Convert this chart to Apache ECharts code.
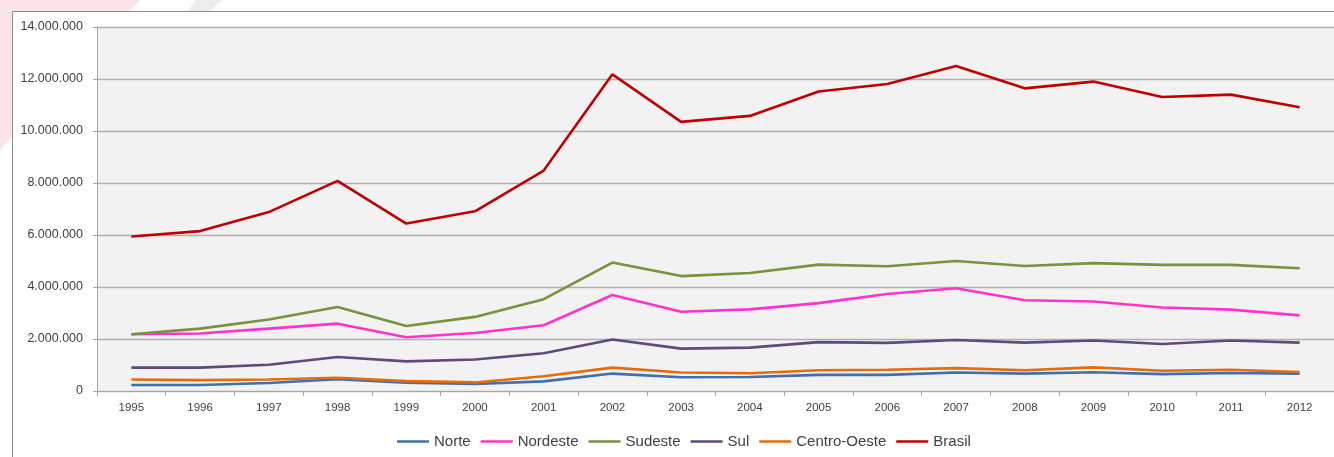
<!DOCTYPE html>
<html>
<head>
<meta charset="utf-8">
<script src="https://cdn.jsdelivr.net/npm/echarts@6/dist/echarts.min.js"></script>
<style>
  html, body { margin: 0; padding: 0; background: #ffffff; }
  #chart { width: 1334px; height: 457px; }
</style>
</head>
<body>
<div id="chart"></div>
<script>
// Anos
const years = ['1995','1996','1997','1998','1999','2000','2001','2002','2003','2004','2005','2006','2007','2008','2009','2010','2011','2012'];

// Valores por região
const norte       = [230000, 230000, 310000, 450000, 320000, 270000, 370000, 670000, 530000, 540000, 620000, 620000, 710000, 670000, 720000, 650000, 690000, 670000];
const nordeste    = [2180000, 2210000, 2400000, 2590000, 2070000, 2230000, 2530000, 3690000, 3050000, 3140000, 3380000, 3730000, 3950000, 3490000, 3440000, 3210000, 3130000, 2910000];
const sudeste     = [2180000, 2400000, 2750000, 3230000, 2500000, 2850000, 3530000, 4940000, 4420000, 4540000, 4860000, 4800000, 5000000, 4810000, 4920000, 4850000, 4850000, 4720000];
const sul         = [900000, 900000, 1010000, 1310000, 1140000, 1210000, 1450000, 1980000, 1630000, 1670000, 1880000, 1850000, 1960000, 1860000, 1940000, 1810000, 1940000, 1860000];
const centroOeste = [440000, 420000, 440000, 510000, 380000, 330000, 570000, 900000, 710000, 680000, 800000, 820000, 880000, 800000, 910000, 780000, 820000, 730000];
const brasil      = [5940000, 6150000, 6880000, 8080000, 6440000, 6910000, 8480000, 12180000, 10350000, 10580000, 11520000, 11810000, 12500000, 11640000, 11900000, 11310000, 11400000, 10910000];

const seriesNames  = ['Norte', 'Nordeste', 'Sudeste', 'Sul', 'Centro-Oeste', 'Brasil'];
const seriesData   = [norte, nordeste, sudeste, sul, centroOeste, brasil];
const seriesColors = ['#3f6fb0', '#ff33cc', '#77933c', '#604a7b', '#e46c0a', '#c00000'];

function fmtThousands(v) {
  return String(v).replace(/\B(?=(\d{3})+(?!\d))/g, '.');
}

const chart = echarts.init(document.getElementById('chart'), null, { renderer: 'canvas' });

chart.setOption({
  animation: false,
  backgroundColor: '#ffffff',
  textStyle: { fontFamily: 'Liberation Sans, Arial, sans-serif' },
  graphic: {
    elements: [
      // faint decorative shapes behind the frame
      { type: 'polygon', z: -30, silent: true,
        shape: { points: [[0, 0], [140, 0], [0, 150]] },
        style: { fill: '#fbe4e7' } },
      { type: 'polygon', z: -30, silent: true,
        shape: { points: [[196, 0], [222, 0], [210, 11], [188, 11]] },
        style: { fill: '#ececec' } },
      // chart frame
      { type: 'rect', z: -20, silent: true,
        shape: { x: 12.5, y: 11.5, width: 1340, height: 460 },
        style: { fill: '#ffffff', stroke: '#8c8c8c', lineWidth: 1 } }
    ]
  },
  grid: {
    left: 97, top: 27, right: -2, bottom: 66,
    show: true, backgroundColor: '#f2f2f2', borderWidth: 0
  },
  legend: {
    data: seriesNames.map((n, i) => ({ name: n, itemStyle: { color: seriesColors[i] } })),
    bottom: 3,
    left: 392,
    icon: 'rect',
    itemWidth: 32,
    itemHeight: 2.5,
    itemGap: 10,
    textStyle: { fontSize: 15, color: '#404040' }
  },
  xAxis: {
    type: 'category',
    data: years,
    boundaryGap: true,
    axisLine: { lineStyle: { color: '#a6a6a6', width: 1 } },
    axisTick: { show: true, length: 5, lineStyle: { color: '#a6a6a6' } },
    axisLabel: { fontSize: 11.5, color: '#404040', margin: 11 },
    splitLine: { show: false }
  },
  yAxis: {
    type: 'value',
    min: 0,
    max: 14000000,
    interval: 2000000,
    axisLine: { show: true, lineStyle: { color: '#a6a6a6', width: 1 } },
    axisTick: { show: true, length: 4, lineStyle: { color: '#a6a6a6' } },
    axisLabel: { fontSize: 12.5, color: '#404040', margin: 14, formatter: fmtThousands },
    splitLine: { show: true, lineStyle: { color: '#b0b0b0', width: 1.3 } }
  },
  series: seriesNames.map((n, i) => ({
    name: n,
    type: 'line',
    data: seriesData[i],
    showSymbol: false,
    symbol: 'none',
    lineStyle: { color: seriesColors[i], width: 2.6 },
    itemStyle: { color: seriesColors[i] },
    z: 2 + i
  }))
});
</script>
</body>
</html>
